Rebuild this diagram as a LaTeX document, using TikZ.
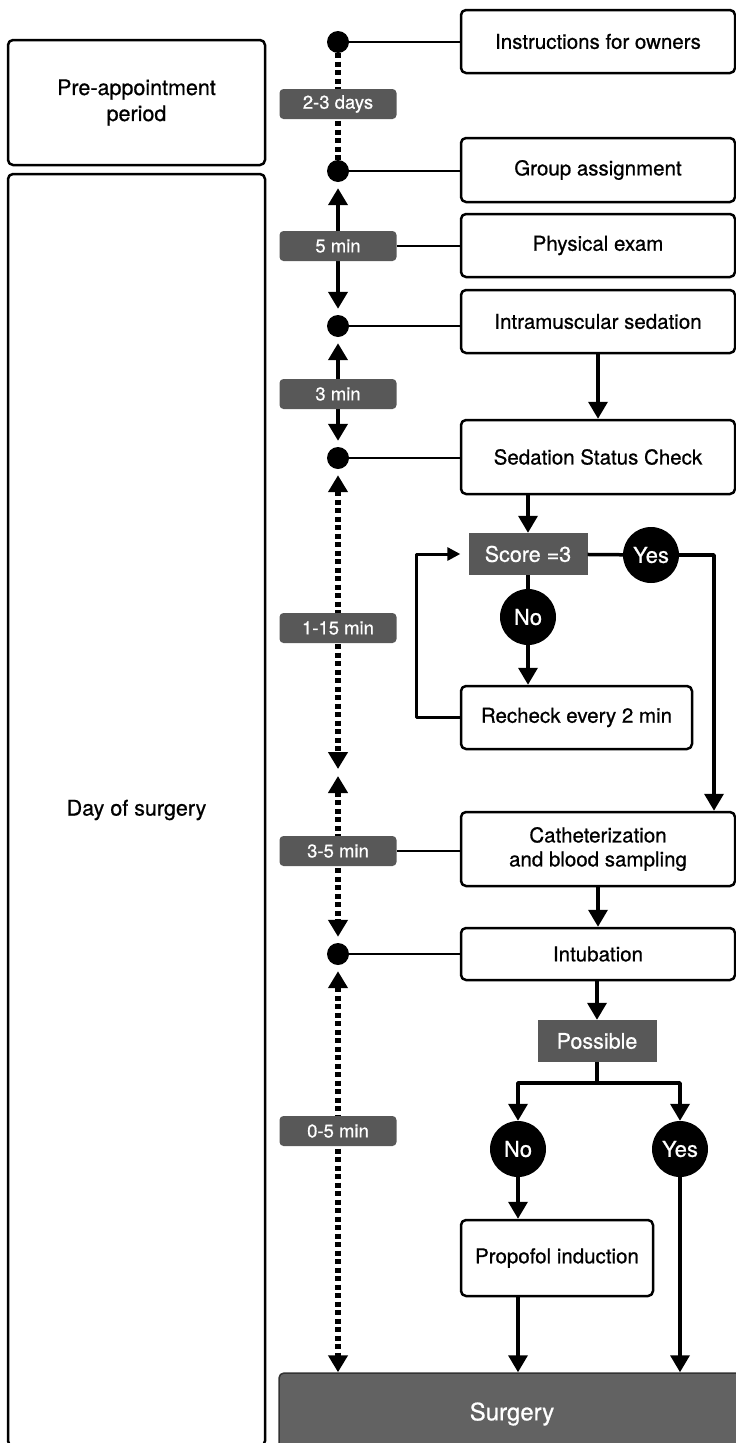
\documentclass[tikz,border=0pt]{standalone}
\usepackage{fontspec}
\setmainfont{TeX Gyre Heros}[FakeBold=0.7]
\usetikzlibrary{arrows.meta}
\definecolor{labgray}{RGB}{88,88,88}
\definecolor{surggray}{RGB}{98,98,98}
\begin{document}
\begin{tikzpicture}[x=1pt, y=-1pt, line join=round, >={Triangle[width=19pt,length=17pt]},
	stage/.style={draw, line width=2.5pt, rounded corners=5pt, minimum width=274pt, align=center, font=\fontsize{20.5}{24}\selectfont},
	period/.style={draw, line width=2.5pt, rounded corners=5pt, minimum width=257pt, align=center, font=\fontsize{21.5}{26}\selectfont},
	timelab/.style={fill=labgray, text=white, rounded corners=4pt, minimum width=117pt, minimum height=30pt, inner sep=0pt, font=\fontsize{18.5}{20}\selectfont},
	decide/.style={fill=labgray, text=white, minimum width=119pt, minimum height=42pt, inner sep=0pt, font=\fontsize{21.5}{24}\selectfont},
	answer/.style={circle, fill=black, text=white, minimum size=56pt, inner sep=0pt, font=\fontsize{22}{24}\selectfont},
	tickdot/.style={circle, fill=black, minimum size=22pt, inner sep=0pt},
	flow/.style={line width=3.5pt},
	link/.style={line width=2pt},
	dotline/.style={line width=6pt, dash pattern=on 5pt off 3.5pt}]
	\def\tx{338} \def\bx{598}
	\useasboundingbox (0,0) rectangle (736,1443);
	\clip (0,0) rectangle (736,1443);
	%\draw[help lines, step=50] (0,0) grid (736,1443);
	% periods
	\node[period, minimum height=125pt] (pre) at (136.5,102.5) {Pre-appointment\\period};
	\node[period, minimum height=1272pt] (day) at (136.5,810) {Day of surgery};
	% steps
	\node[stage, minimum height=63pt] (owners) at (\bx,41.5) {Instructions for owners};
	\node[stage, minimum height=64pt] (group) at (\bx,170) {Group assignment};
	\node[stage, minimum height=63pt] (exam) at (\bx,245.5) {Physical exam};
	\node[stage, minimum height=63pt] (sedation) at (\bx,321.5) {Intramuscular sedation};
	\node[stage, minimum height=74pt] (check) at (\bx,457) {Sedation Status Check};
	\node[stage, minimum width=231pt, minimum height=63pt] (recheck) at (576.5,717.5) {Recheck every 2 min};
	\node[stage, minimum height=74pt] (cath) at (\bx,849) {Catheterization\\and blood sampling};
	\node[stage, minimum height=52pt] (intub) at (\bx,954) {Intubation};
	\node[stage, minimum width=192pt, minimum height=76pt] (propofol) at (557,1258) {Propofol induction};
	\node[fill=surggray, draw=black!80, line width=1.5pt, rounded corners=5pt, minimum width=466pt, minimum height=82pt, font=\fontsize{24}{26}\selectfont, text=white] (surgery) at (512,1414) {Surgery};
	% decisions
	\node[decide] (score) at (528,554) {Score =3};
	\node[answer] (yes1) at (651,555) {Yes};
	\node[answer] (no1) at (528,617) {No};
	\node[decide] (possible) at (597,1041) {Possible};
	\node[answer] (no2) at (518,1149) {No};
	\node[answer] (yes2) at (680,1149) {Yes};
	\coordinate (split) at (597,1083);
	% time line
	\node[tickdot] (d1) at (\tx,42) {};
	\node[tickdot] (d2) at (\tx,171) {};
	\node[tickdot] (d3) at (\tx,326) {};
	\node[tickdot] (d4) at (\tx,458) {};
	\node[tickdot] (d5) at (\tx,954) {};
	\coordinate (g1) at (\tx,769);
	\coordinate (g2) at (\tx,776);
	\draw[dotline] (d1) -- (d2);
	\draw[line width=4pt, <->, shorten <=6pt, shorten >=6pt] (d2) -- (d3);
	\draw[line width=4pt, <->, shorten <=6pt, shorten >=6pt] (d3) -- (d4);
	\draw[dotline, <->, shorten <=6pt] (d4) -- (g1);
	\draw[dotline, <->, shorten >=6pt] (g2) -- (d5);
	\draw[dotline, <->, shorten <=6pt] (d5) -- (d5 |- surgery.north);
	\node[timelab] (t1) at (\tx,104) {2-3 days};
	\node[timelab] (t2) at (\tx,246) {5 min};
	\node[timelab] (t3) at (\tx,394) {3 min};
	\node[timelab] (t4) at (\tx,628) {1-15 min};
	\node[timelab] (t5) at (\tx,851) {3-5 min};
	\node[timelab] (t6) at (\tx,1131) {0-5 min};
	% links to the steps
	\draw[link] (d1) -- (d1 -| owners.west);
	\draw[link] (d2) -- (d2 -| group.west);
	\draw[link] (t2.east) -- (t2.east -| exam.west);
	\draw[link] (d3) -- (d3 -| sedation.west);
	\draw[link] (d4) -- (d4 -| check.west);
	\draw[link] (t5.east) -- (t5.east -| cath.west);
	\draw[link] (d5) -- (d5 -| intub.west);
	% flow
	\draw[flow, ->] (sedation.south) -- (check.north);
	\draw[flow, ->] (check.south -| score) -- (score);
	\draw[flow] (score) -- (yes1);
	\draw[flow, ->] (yes1.east) -| ([xshift=116pt]cath.north);
	\draw[flow] (score) -- (no1);
	\draw[flow, ->] (no1.south) -- (no1.south |- recheck.north);
	\draw[line width=3pt, -{Triangle[width=13pt,length=13pt]}, shorten >=8pt] (recheck.west) -- ++(-43,0) |- (score.west);
	\draw[flow, ->] (cath.south) -- (intub.north);
	\draw[flow, ->] (intub.south -| possible) -- (possible.north);
	\draw[flow] (possible.south) -- (split);
	\draw[flow, ->] (split) -| (no2.north);
	\draw[flow, ->] (split) -| (yes2.north);
	\draw[flow, ->] (no2.south) -- (no2.south |- propofol.north);
	\draw[flow, ->] (no2.south |- propofol.south) -- (no2.south |- surgery.north);
	\draw[flow, ->] (yes2.south) -- (yes2.south |- surgery.north);
\end{tikzpicture}
\end{document}
